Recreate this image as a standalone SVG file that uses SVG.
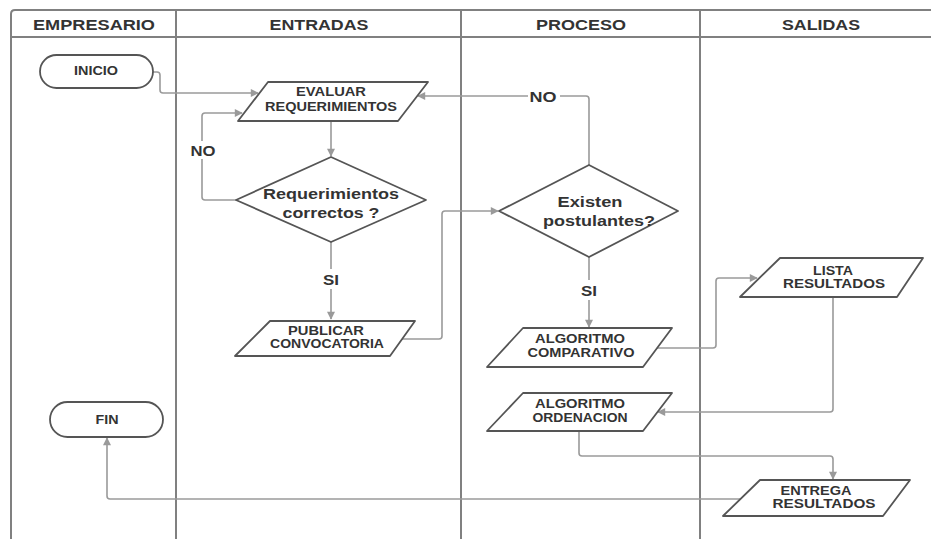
<svg xmlns="http://www.w3.org/2000/svg" width="931" height="539" viewBox="0 0 931 539">
<defs>
<marker id="ah" viewBox="0 0 10 10" refX="9" refY="5" markerWidth="9" markerHeight="8" markerUnits="userSpaceOnUse" orient="auto">
<path d="M0,0 L10,5 L0,10 z" fill="#9a9a9a"/>
</marker>
</defs>
<style>
.frame{fill:none;stroke:#808080;stroke-width:2}
.shape{fill:#fff;stroke:#555;stroke-width:1.8;stroke-linejoin:round}
.conn{fill:none;stroke:#9a9a9a;stroke-width:1.6;stroke-linejoin:round}
text{font-family:"Liberation Sans",Arial,sans-serif;font-weight:bold;fill:#333;text-anchor:middle;dominant-baseline:central}
.hd{font-size:15px}
.sm{font-size:12px}
.lg{font-size:15px}
.lbl{font-size:15px}
</style>
<rect width="931" height="539" fill="#fff"/>
<g id="swimlanes">
<path class="frame" d="M11,539 V14 Q11,10 15,10 H931"/>
<line class="frame" x1="11" y1="37" x2="931" y2="37"/>
<line class="frame" x1="176" y1="10" x2="176" y2="539"/>
<line class="frame" x1="461" y1="10" x2="461" y2="539"/>
<line class="frame" x1="700" y1="10" x2="700" y2="539"/>
<text class="hd" x="94" y="24" textLength="122" lengthAdjust="spacingAndGlyphs">EMPRESARIO</text>
<text class="hd" x="319" y="24" textLength="99" lengthAdjust="spacingAndGlyphs">ENTRADAS</text>
<text class="hd" x="581" y="24" textLength="90" lengthAdjust="spacingAndGlyphs">PROCESO</text>
<text class="hd" x="821" y="24" textLength="78" lengthAdjust="spacingAndGlyphs">SALIDAS</text>
</g>
<g id="connectors">
<path class="conn" d="M153,72 H157 Q160,72 160,75 V90 Q160,93 163,93 H258" marker-end="url(#ah)"/>
<path class="conn" d="M331,121 V156" marker-end="url(#ah)"/>
<path class="conn" d="M236,200 H205 Q202,200 202,197 V116 Q202,113 205,113 H242" marker-end="url(#ah)"/>
<path class="conn" d="M331,242 V319" marker-end="url(#ah)"/>
<path class="conn" d="M402,339 H439 Q442,339 442,336 V214 Q442,211 445,211 H498" marker-end="url(#ah)"/>
<path class="conn" d="M589,165 V99 Q589,96 586,96 H418" marker-end="url(#ah)"/>
<path class="conn" d="M589,257 V327" marker-end="url(#ah)"/>
<path class="conn" d="M657,348 H713 Q716,348 716,345 V281 Q716,278 719,278 H757" marker-end="url(#ah)"/>
<path class="conn" d="M833,297 V409 Q833,412 830,412 H658" marker-end="url(#ah)"/>
<path class="conn" d="M579,431 V453 Q579,456 582,456 H830 Q833,456 833,459 V479" marker-end="url(#ah)"/>
<path class="conn" d="M740,499 H110 Q107,499 107,496 V438" marker-end="url(#ah)"/>
<rect x="189" y="141" width="28" height="18" fill="#fff"/>
<text class="lbl" x="203" y="150" textLength="25" lengthAdjust="spacingAndGlyphs">NO</text>
<rect x="321" y="269" width="20" height="20" fill="#fff"/>
<text class="lbl" x="331" y="279" textLength="16" lengthAdjust="spacingAndGlyphs">SI</text>
<rect x="528" y="88" width="32" height="16" fill="#fff"/>
<text class="lbl" x="543" y="96" textLength="27" lengthAdjust="spacingAndGlyphs">NO</text>
<rect x="579" y="280" width="20" height="20" fill="#fff"/>
<text class="lbl" x="589" y="290" textLength="16" lengthAdjust="spacingAndGlyphs">SI</text>
</g>
<g id="inicio">
<rect class="shape" x="40" y="55" width="113" height="33" rx="16.5"/>
<text class="sm" x="96" y="71" textLength="44" lengthAdjust="spacingAndGlyphs">INICIO</text>
</g>
<g id="evaluar">
<path class="shape" d="M268,82 H428 L398,121 H238 Z"/>
<text class="sm" x="331" y="92" textLength="70" lengthAdjust="spacingAndGlyphs">EVALUAR</text>
<text class="sm" x="331" y="107" textLength="132" lengthAdjust="spacingAndGlyphs">REQUERIMIENTOS</text>
</g>
<g id="decision1">
<path class="shape" d="M331,157 L426,200 L331,242 L236,200 Z"/>
<text class="lg" x="331" y="193" textLength="136" lengthAdjust="spacingAndGlyphs">Requerimientos</text>
<text class="lg" x="331" y="212" textLength="97" lengthAdjust="spacingAndGlyphs">correctos ?</text>
</g>
<g id="publicar">
<path class="shape" d="M270,321 H415 L390,356 H235 Z"/>
<text class="sm" x="326" y="331" textLength="76" lengthAdjust="spacingAndGlyphs">PUBLICAR</text>
<text class="sm" x="327" y="344" textLength="114" lengthAdjust="spacingAndGlyphs">CONVOCATORIA</text>
</g>
<g id="decision2">
<path class="shape" d="M589,165 L678,211 L589,257 L499,211 Z"/>
<text class="lg" x="590" y="201" textLength="65" lengthAdjust="spacingAndGlyphs">Existen</text>
<text class="lg" x="599" y="220" textLength="112" lengthAdjust="spacingAndGlyphs">postulantes?</text>
</g>
<g id="comparativo">
<path class="shape" d="M523,328 H672 L643,367 H487 Z"/>
<text class="sm" x="580" y="339" textLength="90" lengthAdjust="spacingAndGlyphs">ALGORITMO</text>
<text class="sm" x="581" y="353" textLength="107" lengthAdjust="spacingAndGlyphs">COMPARATIVO</text>
</g>
<g id="lista">
<path class="shape" d="M780,258 H923 L897,297 H740 Z"/>
<text class="sm" x="833" y="271" textLength="40" lengthAdjust="spacingAndGlyphs">LISTA</text>
<text class="sm" x="834" y="284" textLength="102" lengthAdjust="spacingAndGlyphs">RESULTADOS</text>
</g>
<g id="ordenacion">
<path class="shape" d="M523,393 H672 L643,431 H487 Z"/>
<text class="sm" x="580" y="404" textLength="90" lengthAdjust="spacingAndGlyphs">ALGORITMO</text>
<text class="sm" x="580" y="418" textLength="95" lengthAdjust="spacingAndGlyphs">ORDENACION</text>
</g>
<g id="entrega">
<path class="shape" d="M760,480 H910 L883,516 H723 Z"/>
<text class="sm" x="816" y="491" textLength="71" lengthAdjust="spacingAndGlyphs">ENTREGA</text>
<text class="sm" x="824" y="504" textLength="103" lengthAdjust="spacingAndGlyphs">RESULTADOS</text>
</g>
<g id="fin">
<rect class="shape" x="50" y="402" width="113" height="35" rx="17.5"/>
<text class="sm" x="107" y="420" textLength="23" lengthAdjust="spacingAndGlyphs">FIN</text>
</g>
</svg>
